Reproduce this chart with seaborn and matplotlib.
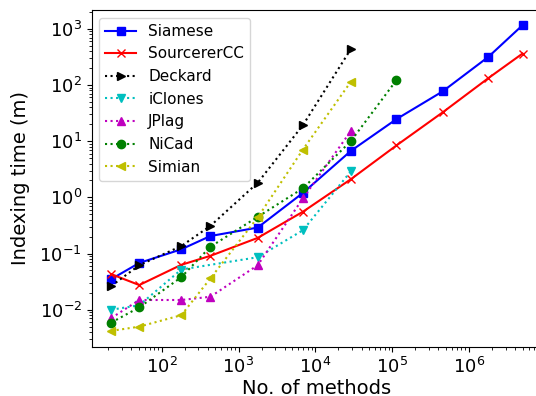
import matplotlib
matplotlib.use("Agg")
import matplotlib.pyplot as plt
import numpy as np
import pandas as pd
import seaborn as sns

# number of methods at each benchmark size
methods = [22, 51, 180, 430, 1780, 6900, 29000, 114000, 456000, 1800000, 5000000]

# indexing time in minutes
siamese = [0.035, 0.068, 0.119, 0.205, 0.29, 1.2, 6.7, 24.7, 77, 318, 1160]
sourcerercc = [0.043, 0.0275, 0.063, 0.091, 0.19, 0.555, 2.1, 8.4, 32.6, 133, 363]
deckard = [0.0264, 0.062, 0.136, 0.31, 1.82, 19.3, 435]
iclones = [0.0100, 0.012, 0.052, None, 0.086, 0.26, 2.9]
jplag = [0.0071, 0.0149, 0.0149, 0.017, 0.062, 0.96, 15.1]
nicad = [0.0059, 0.011, 0.038, 0.132, 0.45, 1.45, 10.0, 122]
simian = [0.0042, 0.0050, 0.0080, 0.036, 0.44, 7.1, 114]

series = [
    ("Siamese", siamese, "b", "s", "-"),
    ("SourcererCC", sourcerercc, "r", "x", "-"),
    ("Deckard", deckard, "k", ">", ":"),
    ("iClones", iclones, "c", "v", ":"),
    ("JPlag", jplag, "m", "^", ":"),
    ("NiCad", nicad, "g", "o", ":"),
    ("Simian", simian, "y", "<", ":"),
]

fig = plt.figure(figsize=(5.36, 3.96), dpi=100)
ax = fig.add_axes([0.1711, 0.1245, 0.8401, 0.85])

for name, vals, color, marker, ls in series:
    df = pd.DataFrame({"methods": methods[:len(vals)], "time": vals}).dropna()
    sns.lineplot(
        data=df, x="methods", y="time", ax=ax,
        color=color, marker=marker, linestyle=ls, label=name,
        markersize=6, markeredgecolor=color, markeredgewidth=1,
        linewidth=1.5,
    )

ax.set_xscale("log")
ax.set_yscale("log")
ax.set_xlim(10 ** 1.0885, 10 ** 6.952)
ax.set_ylim(10 ** -2.658, 10 ** 3.333)

ax.set_xlabel("No. of methods", fontsize=14, labelpad=1.5)
ax.set_ylabel("Indexing time (m)", fontsize=14, labelpad=6.5)
ax.tick_params(axis="both", which="major", labelsize=13)

ax.legend(loc="upper left", fontsize=11)

fig.savefig("out.png", dpi=100)
